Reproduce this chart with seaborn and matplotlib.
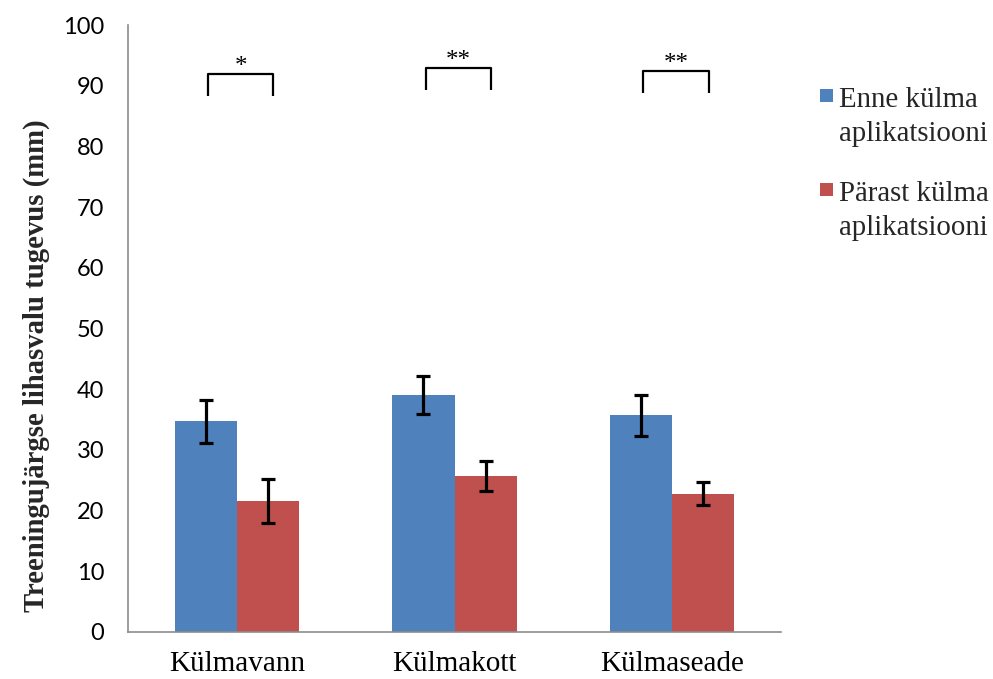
import pandas as pd
import matplotlib
matplotlib.use("Agg")
import matplotlib.pyplot as plt
from matplotlib.patches import Rectangle
import seaborn as sns

# data
categories = ["Külmavann", "Külmakott", "Külmaseade"]
series = ["Enne külma\naplikatsiooni", "Pärast külma\naplikatsiooni"]
before_mean = [34.7, 39.0, 35.7]
before_err = [3.5, 3.1, 3.35]
after_mean = [21.6, 25.7, 22.8]
after_err = [3.6, 2.5, 1.9]
sig_labels = ["*", "**", "**"]
sig_heights = [91.9, 92.9, 92.4]
y_ticks = [0, 10, 20, 30, 40, 50, 60, 70, 80, 90, 100]
y_label = "Treeningujärgse lihasvalu tugevus (mm)"

colors = ["#4F81BD", "#C0504D"]
axis_grey = "#8c8c8c"

df = pd.DataFrame({
    "kategooria": categories * 2,
    "seeria": [series[0]] * len(categories) + [series[1]] * len(categories),
    "vaartus": before_mean + after_mean,
})

sns.set_theme(style="white")
plt.rcParams["font.family"] = ["Liberation Serif", "DejaVu Serif"]

W, H = 993, 679
fig = plt.figure(figsize=(W / 100, H / 100), dpi=100)
ax = fig.add_axes([128 / W, 47 / H, 653 / W, 607 / H])

sns.barplot(data=df, x="kategooria", y="vaartus", hue="seeria", order=categories,
            hue_order=series, palette=colors, saturation=1, width=0.57,
            errorbar=None, legend=False, linewidth=0, ax=ax)

# error bars on top of the bars
centers = []
for cont, err in zip(ax.containers, [before_err, after_err]):
    xs = [b.get_x() + b.get_width() / 2 for b in cont]
    ys = [b.get_height() for b in cont]
    ax.errorbar(xs, ys, yerr=err, fmt="none", ecolor="black",
                elinewidth=2.3, capsize=5, capthick=2.3, zorder=3)
    centers.append(xs)

# significance brackets
for i, (lab, h) in enumerate(zip(sig_labels, sig_heights)):
    x0 = centers[0][i] + 0.01
    x1 = centers[1][i] + 0.025
    ax.plot([x0, x0, x1, x1], [h - 3.6, h, h, h - 3.6], color="black",
            lw=1.6, solid_capstyle="butt", zorder=3)
    ax.text((x0 + x1) / 2, h + 0.2, lab, ha="center", va="baseline",
            fontsize=18, color="black")

ax.set_xlim(-0.5, len(categories) - 0.5)
ax.set_ylim(0, 100)
ax.set_yticks(y_ticks, labels=[str(t) for t in y_ticks],
              fontfamily="Lato", fontsize=17)
ax.tick_params(axis="y", length=0, pad=17, colors="black")
ax.tick_params(axis="x", length=0, pad=14, labelsize=21, colors="black")
ax.set_xlabel("")
ax.set_ylabel("")

sns.despine(ax=ax)
for side in ["left", "bottom"]:
    ax.spines[side].set_color(axis_grey)
    ax.spines[side].set_linewidth(1.2)

ax.text(-0.141, 0.438, y_label, transform=ax.transAxes, rotation=90,
        ha="center", va="center", fontsize=20.7, fontweight="bold")

# legend drawn by hand so the swatch sits on the first line of each label
leg_x, leg_top, leg_step = 820, 89, 94
for i, (lab, col) in enumerate(zip(series, colors)):
    top = leg_top + i * leg_step
    fig.add_artist(Rectangle((leg_x / W, 1 - (top + 12.5) / H), 13 / W, 12.5 / H,
                             transform=fig.transFigure, color=col, lw=0))
    for j, line in enumerate(lab.split("\n")):
        fig.text((leg_x + 19) / W, 1 - (top + 18 + j * 34) / H, line,
                 ha="left", va="baseline", fontsize=20.8)

fig.savefig("out.png", dpi=100)
